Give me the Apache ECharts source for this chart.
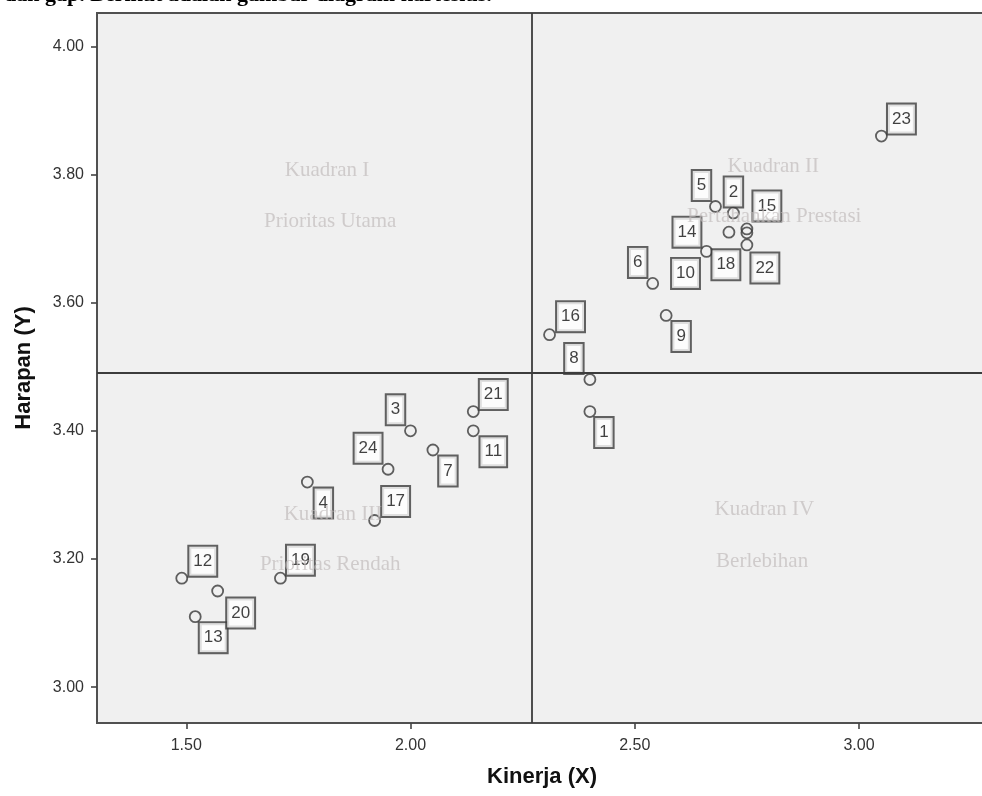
<!DOCTYPE html>
<html><head><meta charset="utf-8">
<script src="https://cdn.jsdelivr.net/npm/echarts@6/dist/echarts.min.js"></script>
<style>html,body{margin:0;padding:0;background:#fff;overflow:hidden;width:982px;height:796px}#c{width:1000px;height:796px}</style>
</head><body><div id="c"></div>
<script>
// ---- data ----
const ids     = ['1','2','3','4','5','6','7','8','9','10','11','12','13','14','15','16','17','18','19','20','21','22','23','24'];
const kinerja = [2.40,2.72,2.00,1.77,2.68,2.54,2.05,2.40,2.57,2.66,2.14,1.49,1.52,2.71,2.75,2.31,1.92,2.75,1.71,1.57,2.14,2.75,3.05,1.95];
const harapan = [3.43,3.74,3.40,3.32,3.75,3.63,3.37,3.48,3.58,3.68,3.40,3.17,3.11,3.71,3.715,3.55,3.26,3.709,3.17,3.15,3.43,3.69,3.86,3.34];
const xTicks = [1.5, 2.0, 2.5, 3.0];
const yTicks = [3.0, 3.2, 3.4, 3.6, 3.8, 4.0];
const quadText = ['Kuadran I','Prioritas Utama','Kuadran II','Pertahankan Prestasi','Kuadran III','Prioritas Rendah','Kuadran IV','Berlebihan'];
const quadX    = [1.814, 1.821, 2.809, 2.811, 1.827, 1.821, 2.789, 2.784];
const quadY    = [3.807, 3.726, 3.813, 3.734, 3.270, 3.192, 3.277, 3.196];

// ---- label placement (style only, pixels) ----
const labelOffsets = [[14,21],[0,-21],[-15,-21],[16,21],[-14,-21],[-15,-21],[15,21],[-16,-21],[15,21],[-21,22],
  [20,21],[21,-17],[18,21],[-42,0],[20,-23],[21,-18],[21,-19],[-21,32],[20,-18],[23,22],[20,-17],[18,23],[20,-17],[-20,-21]];

const mean = a => a.reduce((s,v)=>s+v,0)/a.length;
const xMean = mean(kinerja), yMean = mean(harapan);

const chart = echarts.init(document.getElementById('c'), null, {renderer:'canvas'});
const tickFmt = v => Number(v).toFixed(2);
chart.setOption({
  animation: false,
  backgroundColor: '#ffffff',
  graphic: [{
    type: 'text', left: 4, top: -16, silent: true,
    style: { text: 'dan gap. Berikut adalah gambar diagram kartesius.', fontFamily: 'Liberation Serif', fontWeight: 'bold', fontSize: 22, fill: '#000' }
  }],
  grid: { left: 97, top: 13, width: 890, height: 710, show: true, backgroundColor: '#f0f0f0', borderColor: '#505050', borderWidth: 2 },
  xAxis: {
    type: 'value', min: 1.301, max: 3.2854,
    name: 'Kinerja (X)', nameLocation: 'middle', nameGap: 43,
    nameTextStyle: { fontFamily: 'Liberation Sans', fontWeight: 'bold', fontSize: 22, color: '#111' },
    axisLine: { show: false },
    axisTick: { show: true, length: 6, customValues: xTicks, lineStyle: { color: '#444', width: 1.6 } },
    axisLabel: { customValues: xTicks, formatter: tickFmt, fontFamily: 'Liberation Sans', fontSize: 16, color: '#333', margin: 15 },
    splitLine: { show: false }
  },
  yAxis: {
    type: 'value', min: 2.944, max: 4.052,
    name: 'Harapan (Y)', nameLocation: 'middle', nameGap: 62,
    nameTextStyle: { fontFamily: 'Liberation Sans', fontWeight: 'bold', fontSize: 22, color: '#111' },
    axisLine: { show: false },
    axisTick: { show: true, length: 6, customValues: yTicks, lineStyle: { color: '#444', width: 1.6 } },
    axisLabel: { customValues: yTicks, formatter: tickFmt, fontFamily: 'Liberation Sans', fontSize: 16, color: '#333', margin: 13 },
    splitLine: { show: false }
  },
  series: [
    {
      type: 'scatter', z: 2,
      symbol: 'circle', symbolSize: 11,
      itemStyle: { color: 'rgba(0,0,0,0)', borderColor: '#3a3a3a', borderWidth: 1.8 },
      data: ids.map((id,i)=>({ name: id, value: [kinerja[i], harapan[i]], label: { offset: labelOffsets[i] } })),
      label: {
        show: true, position: 'inside', formatter: '{b}',
        fontFamily: 'Liberation Sans', fontSize: 17, lineHeight: 17, color: '#111',
        backgroundColor: '#ffffff', borderColor: '#3c3c3c', borderWidth: 2, padding: [6,4,6,4]
      },
      markLine: {
        silent: true, symbol: 'none', animation: false,
        label: { show: false },
        lineStyle: { color: '#3c3c3c', width: 1.8, type: 'solid' },
        data: [{ xAxis: xMean }, { yAxis: yMean }]
      },
      emphasis: { disabled: true }
    },
    {
      type: 'scatter', z: 5, silent: true,
      symbolSize: 1, itemStyle: { color: 'rgba(0,0,0,0)' },
      data: quadText.map((t,i)=>({ name: t, value: [quadX[i], quadY[i]] })),
      label: { show: true, position: 'inside', formatter: '{b}', fontFamily: 'Liberation Serif', fontSize: 21, color: 'rgba(192,186,186,0.85)' },
      emphasis: { disabled: true }
    }
  ]
});
</script></body></html>
